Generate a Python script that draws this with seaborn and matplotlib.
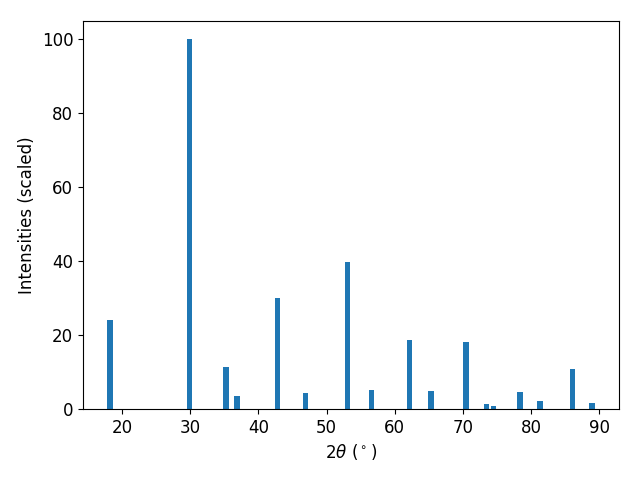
import matplotlib
matplotlib.use('Agg')
import matplotlib.pyplot as plt
import pandas as pd
import seaborn as sns
import numpy as np

# Peak positions (2theta, degrees) and scaled intensities
two_theta = [18.24, 29.9, 35.26, 36.88, 42.82, 46.86, 53.09, 56.6, 62.12,
             65.27, 70.41, 73.42, 74.45, 78.33, 81.27, 86.04, 88.9]
intensity = [24.1, 100, 11.4, 3.5, 30.1, 4.3, 39.8, 5.1, 18.7,
             4.9, 18.2, 1.4, 0.8, 4.6, 2.2, 10.8, 1.6]

df = pd.DataFrame({'two_theta': two_theta, 'intensity': intensity})

plt.rcParams['font.size'] = 12

fig, ax = plt.subplots(figsize=(6.4, 4.8), dpi=100)

# bar width of 0.8 degrees on the native numeric scale
min_gap = np.min(np.diff(np.sort(df['two_theta'].unique())))
sns.barplot(data=df, x='two_theta', y='intensity', native_scale=True,
            width=0.8 / min_gap, color='#1f77b4', saturation=1,
            errorbar=None, ax=ax)

ax.set_xlabel(r'$2\theta$ ($^\circ$)')
ax.set_ylabel('Intensities (scaled)')

# axes box placed to match the reference
fig.subplots_adjust(left=83 / 640, right=619 / 640, top=1 - 21 / 480, bottom=1 - 409 / 480)
fig.savefig('out.png')
